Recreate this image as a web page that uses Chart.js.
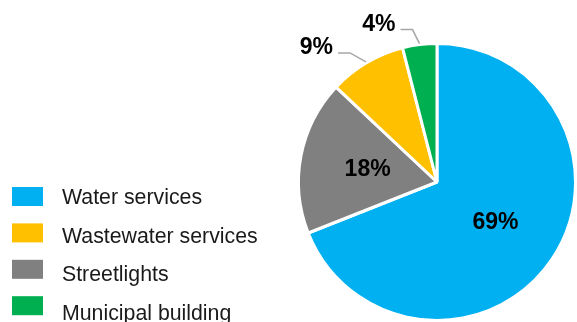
<!DOCTYPE html>
<html><head><meta charset="utf-8">
<script src="https://cdn.jsdelivr.net/npm/chart.js@4.4.0/dist/chart.umd.min.js"></script>
<style>html,body{margin:0;padding:0;background:#fff}#wrap{width:577px;height:322px;position:relative;overflow:hidden}</style>
</head><body><div id="wrap"><canvas id="c" width="577" height="322"></canvas></div>
<script>
// Data (slice order as drawn, clockwise from 12 o'clock)
const categories = ['Water services', 'Streetlights', 'Wastewater services', 'Municipal building'];
const values = [69, 18, 9, 4];
const colors = ['#00B0F0', '#808080', '#FFC000', '#00B050'];
// Legend order as shown in the reference
const legendOrder = ['Water services', 'Wastewater services', 'Streetlights', 'Municipal building'];

const FONT = "'Liberation Sans', Arial, sans-serif";
// leader-line elbow offsets (px) for the small slices labelled outside
const leaderElbow = { 'Wastewater services': [-16, -9], 'Municipal building': [-7, -14] };

const labelPlugin = {
  id: 'pieLabels',
  afterDraw(chart) {
    const ctx = chart.ctx;
    const meta = chart.getDatasetMeta(0);
    const total = values.reduce((a, b) => a + b, 0);
    ctx.save();
    meta.data.forEach((arc, i) => {
      const p = arc.getProps(['x', 'y', 'startAngle', 'endAngle', 'outerRadius'], true);
      const a = (p.startAngle + p.endAngle) / 2;
      const R = p.outerRadius;
      const txt = Math.round(values[i] / total * 100) + '%';
      ctx.font = 'bold 23px ' + FONT;
      ctx.fillStyle = '#000';
      const off = leaderElbow[categories[i]];
      if (!off) {
        const d = R * 0.51;
        ctx.textAlign = 'center';
        ctx.textBaseline = 'middle';
        ctx.fillText(txt, p.x + Math.cos(a) * d, p.y + Math.sin(a) * d + 1);
      } else {
        const x0 = p.x + Math.cos(a) * (R + 1), y0 = p.y + Math.sin(a) * (R + 1);
        const x1 = x0 + off[0], y1 = y0 + off[1];
        const x2 = x1 - 12;
        ctx.strokeStyle = '#A6A6A6';
        ctx.lineWidth = 1.5;
        ctx.beginPath();
        ctx.moveTo(x0, y0); ctx.lineTo(x1, y1); ctx.lineTo(x2, y1);
        ctx.stroke();
        ctx.textAlign = 'right';
        ctx.textBaseline = 'alphabetic';
        ctx.fillText(txt, x2 - 5, y1 + 1);
      }
    });
    // Legend
    ctx.font = '21.3px ' + FONT;
    ctx.textAlign = 'left';
    ctx.textBaseline = 'alphabetic';
    legendOrder.forEach((name, j) => {
      const idx = categories.indexOf(name);
      ctx.fillStyle = colors[idx];
      ctx.fillRect(12, 187 + j * 36.4, 31, 19);
      ctx.fillStyle = '#1a1a1a';
      ctx.fillText(name, 62, 204 + j * 38.7);
    });
    ctx.restore();
  }
};

new Chart(document.getElementById('c'), {
  type: 'pie',
  data: {
    labels: categories,
    datasets: [{
      data: values,
      backgroundColor: colors,
      borderColor: '#ffffff',
      borderWidth: 3
    }]
  },
  options: {
    responsive: false,
    animation: false,
    events: [],
    layout: { padding: { left: 297, top: 42, right: 0, bottom: 0 } },
    plugins: { legend: { display: false }, tooltip: { enabled: false } }
  },
  plugins: [labelPlugin]
});
</script>
</body></html>
